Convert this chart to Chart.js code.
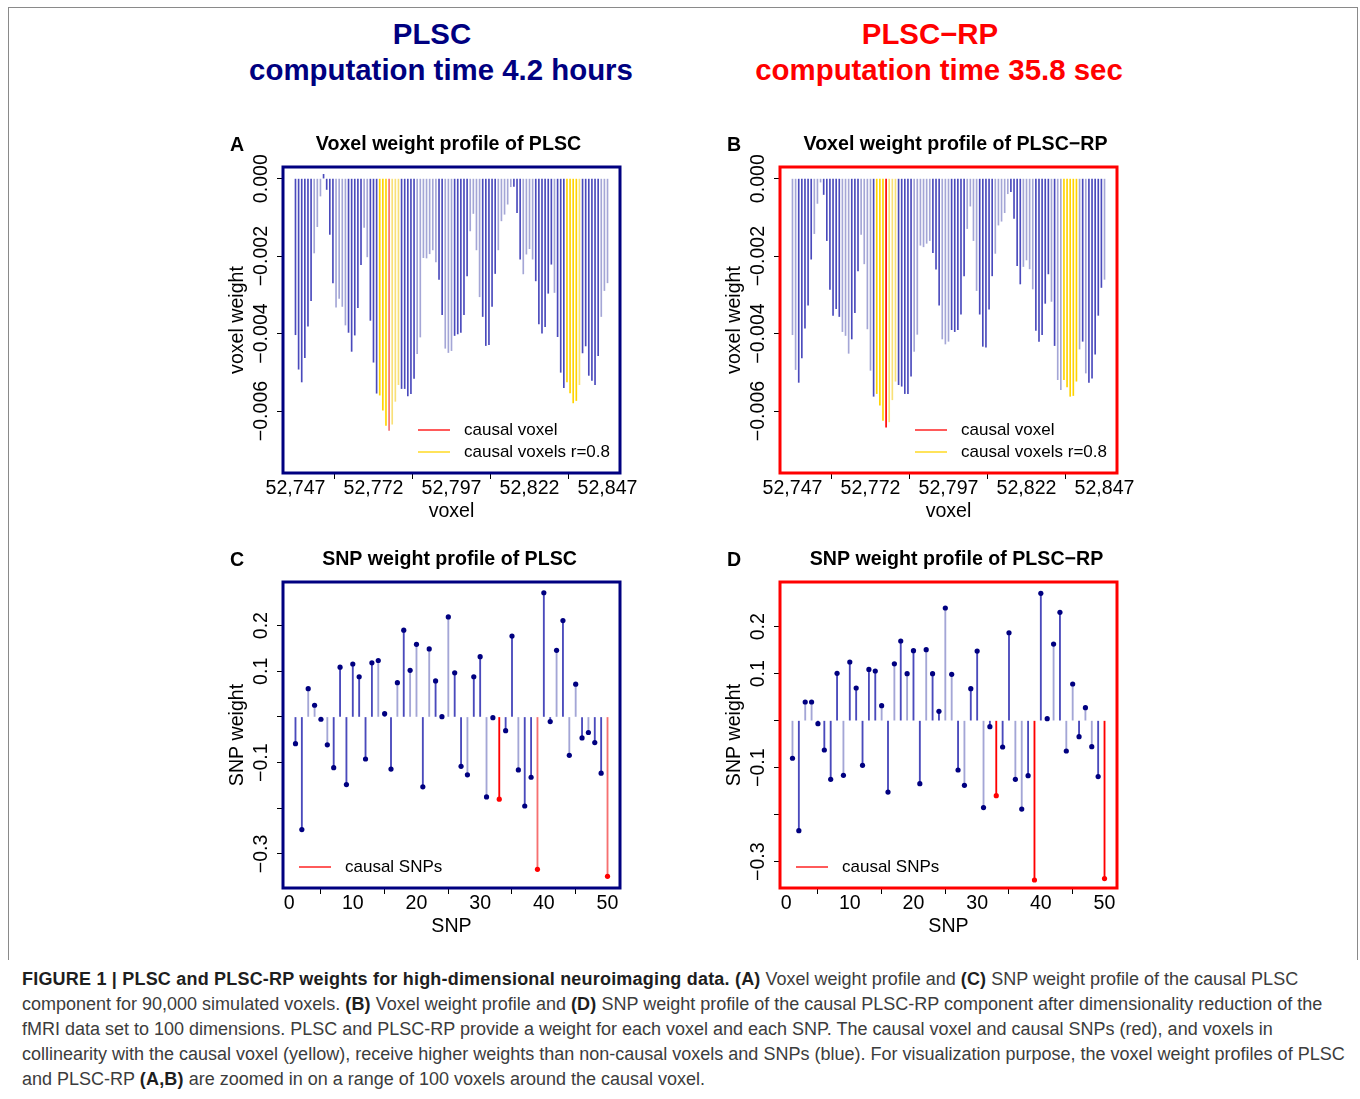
<!DOCTYPE html>
<html>
<head>
<meta charset="utf-8">
<title>PLSC and PLSC-RP weights</title>
<script src="https://cdn.jsdelivr.net/npm/chart.js@4.4.1/dist/chart.umd.min.js"></script>
<style>
  body { margin: 0; background: #fff; font-family: "Liberation Sans", Arial, Helvetica, sans-serif; }
  #page { position: relative; width: 1360px; height: 1099px; overflow: hidden; background: #fff; }
  #border { position: absolute; left: 8px; top: 7px; width: 1348px; height: 952px;
            border: 1px solid #8a8a8a; border-bottom: none; }
  .head { position: absolute; transform: translateX(-50%); white-space: nowrap;
          font-weight: bold; font-size: 29.4px; line-height: 36px; }
  canvas { position: absolute; }
  #caption { position: absolute; left: 22px; top: 967px; white-space: nowrap;
             font-size: 18px; line-height: 25px; color: #3c3c3c; }
  #caption b { color: #1e1e1e; letter-spacing: 0.2px; }
</style>
</head>
<body>
<div id="page">
  <div id="border"></div>
  <div class="head" style="left:432px; top:16px; color:#000080">PLSC</div>
  <div class="head" style="left:441px; top:52px; color:#000080">computation time 4.2 hours</div>
  <div class="head" style="left:930px; top:16px; color:#ff0000">PLSC−RP</div>
  <div class="head" style="left:939px; top:52px; color:#ff0000">computation time 35.8 sec</div>

  <canvas id="chartA" width="500" height="420" style="left:201px; top:110px"></canvas>
  <canvas id="chartB" width="500" height="420" style="left:698px; top:110px"></canvas>
  <canvas id="chartC" width="500" height="420" style="left:201px; top:525px"></canvas>
  <canvas id="chartD" width="500" height="420" style="left:698px; top:525px"></canvas>

  <div id="caption">
    <b>FIGURE 1 | PLSC and PLSC-RP weights for high-dimensional neuroimaging data. (A)</b> Voxel weight profile and <b>(C)</b> SNP weight profile of the causal PLSC<br>
    component for 90,000 simulated voxels. <b>(B)</b> Voxel weight profile and <b>(D)</b> SNP weight profile of the causal PLSC-RP component after dimensionality reduction of the<br>
    fMRI data set to 100 dimensions. PLSC and PLSC-RP provide a weight for each voxel and each SNP. The causal voxel and causal SNPs (red), and voxels in<br>
    collinearity with the causal voxel (yellow), receive higher weights than non-causal voxels and SNPs (blue). For visualization purpose, the voxel weight profiles of PLSC<br>
    and PLSC-RP <b>(A,B)</b> are zoomed in on a range of 100 voxels around the causal voxel.
  </div>
</div>

<script>
// voxel ids shown in panels A and B (100 voxels around the causal one)
const voxelIds = [];
for (let v = 52747; v <= 52847; v++) voxelIds.push(v);
const voxelTicks = [52747, 52772, 52797, 52822, 52847];
const voxelWeightTicks = [0, -0.002, -0.004, -0.006];
const causalVoxel = 52777;
const correlatedVoxels = [52774, 52775, 52776, 52778, 52779, 52780, 52834, 52835, 52836, 52837, 52838];

// voxel weights, PLSC (panel A)
const voxelWeightPLSC = [
  -0.00403, -0.00492, -0.00525, -0.00462, -0.00381, -0.00315, -0.00192, -0.00124, -0.00045, 0.00011,
  -0.00028, -0.00144, -0.00269, -0.00332, -0.00309, -0.00330, -0.00378, -0.00397, -0.00446, -0.00404,
  -0.00333, -0.00222, -0.00126, -0.00202, -0.00366, -0.00474, -0.00554, -0.00559, -0.00598, -0.00637,
  -0.00650, -0.00634, -0.00575, -0.00532, -0.00542, -0.00542, -0.00561, -0.00555, -0.00516, -0.00452,
  -0.00409, -0.00204, -0.00205, -0.00194, -0.00184, -0.00215, -0.00260, -0.00351, -0.00438, -0.00449,
  -0.00444, -0.00405, -0.00401, -0.00397, -0.00351, -0.00251, -0.00135, -0.00090, -0.00184, -0.00305,
  -0.00356, -0.00431, -0.00429, -0.00330, -0.00245, -0.00184, -0.00109, -0.00092, -0.00066, -0.00021,
  -0.00020, -0.00088, -0.00208, -0.00246, -0.00195, -0.00181, -0.00208, -0.00264, -0.00375, -0.00399,
  -0.00382, -0.00296, -0.00221, -0.00294, -0.00408, -0.00500, -0.00540, -0.00525, -0.00553, -0.00579,
  -0.00573, -0.00532, -0.00450, -0.00432, -0.00508, -0.00521, -0.00532, -0.00457, -0.00356, -0.00289,
  -0.00269
];
// voxel weights, PLSC-RP (panel B)
const voxelWeightRP = [
  -0.00403, -0.00493, -0.00526, -0.00463, -0.00386, -0.00327, -0.00208, -0.00142, -0.00064, -0.00009,
  -0.00041, -0.00160, -0.00286, -0.00353, -0.00336, -0.00356, -0.00395, -0.00405, -0.00451, -0.00414,
  -0.00346, -0.00238, -0.00144, -0.00220, -0.00388, -0.00495, -0.00562, -0.00555, -0.00585, -0.00624,
  -0.00642, -0.00628, -0.00571, -0.00523, -0.00532, -0.00536, -0.00555, -0.00555, -0.00510, -0.00446,
  -0.00402, -0.00172, -0.00176, -0.00167, -0.00160, -0.00191, -0.00234, -0.00327, -0.00414, -0.00427,
  -0.00420, -0.00390, -0.00395, -0.00390, -0.00350, -0.00251, -0.00129, -0.00071, -0.00160, -0.00289,
  -0.00350, -0.00433, -0.00435, -0.00337, -0.00251, -0.00193, -0.00120, -0.00110, -0.00088, -0.00039,
  -0.00034, -0.00103, -0.00225, -0.00272, -0.00227, -0.00210, -0.00233, -0.00285, -0.00392, -0.00420,
  -0.00403, -0.00322, -0.00246, -0.00317, -0.00431, -0.00519, -0.00545, -0.00519, -0.00538, -0.00562,
  -0.00560, -0.00523, -0.00440, -0.00420, -0.00502, -0.00526, -0.00515, -0.00453, -0.00353, -0.00281,
  -0.00260
];
// 1 = strong shade, 0 = pale shade of the bar colour
const voxelShadePLSC = [
  1,1,1,1,1,1,0,0,0,1, 1,1,1,0,0,0,0,1,1,1, 1,1,0,0,1,1,1,1,1,1,
  0,0,0,0,1,1,1,1,1,0, 0,0,0,0,0,0,1,1,0,0, 0,1,1,1,1,1,0,0,0,0,
  1,1,1,1,1,0,0,0,0,0, 1,1,1,0,0,0,0,1,1,1, 1,1,1,0,1,1,1,1,1,1,
  1,0,1,1,1,1,1,1,0,0, 0
];
const voxelShadeRP = [
  0,0,1,1,1,1,1,0,0,0, 1,1,1,1,1,1,0,0,0,1, 1,1,0,0,0,0,1,1,1,1,
  1,0,0,0,1,1,1,1,1,0, 0,0,0,0,0,1,1,1,0,0, 0,1,1,1,1,1,0,0,0,0,
  1,1,1,1,1,0,0,0,0,0, 1,1,1,1,0,0,0,0,1,1, 1,1,1,0,1,0,0,1,1,1,
  1,1,0,1,0,1,1,1,1,1, 0
];

// SNPs (panels C and D)
const snpIds = [];
for (let s = 1; s <= 50; s++) snpIds.push(s);
const snpTicks = [0, 10, 20, 30, 40, 50];
const snpWeightTicks = [0.2, 0.1, 0, -0.1, -0.2, -0.3];
const snpWeightLabels = [0.2, 0.1, -0.1, -0.3];
const causalSNPs = [33, 39, 50];

const snpWeightPLSC = [
  -0.0585, -0.2465, 0.062, 0.0256, -0.005, -0.061, -0.111, 0.109, -0.148, 0.116,
  0.088, -0.092, 0.1185, 0.1236, 0.0073, -0.114, 0.075, 0.190, 0.102, 0.159,
  -0.153, 0.149, 0.079, 0.0007, 0.219, 0.0966, -0.108, -0.1266, 0.088, 0.132,
  -0.175, -0.0015, -0.180, -0.030, 0.177, -0.116, -0.195, -0.132, -0.3336, 0.272,
  -0.0102, 0.146, 0.211, -0.084, 0.0717, -0.046, -0.034, -0.056, -0.123, -0.349
];
const snpWeightRP = [
  -0.080, -0.234, 0.0397, 0.0397, -0.0064, -0.0624, -0.1248, 0.1007, -0.1163, 0.1248,
  0.0695, -0.095, 0.109, 0.1057, 0.0319, -0.152, 0.121, 0.1695, 0.100, 0.149,
  -0.134, 0.151, 0.100, 0.0199, 0.2397, 0.0986, -0.105, -0.1376, 0.068, 0.148,
  -0.185, -0.0128, -0.1596, -0.056, 0.187, -0.1248, -0.188, -0.117, -0.339, 0.271,
  0.0043, 0.163, 0.2305, -0.0645, 0.078, -0.034, 0.0277, -0.0553, -0.119, -0.336
];
const snpShadePLSC = [
  1,1,0,0,1,0,1,1,1,1, 1,1,1,0,1,1,0,1,0,0, 1,0,1,1,0,1,1,0,1,1,
  0,1,1,1,1,0,1,1,0,1, 1,0,1,0,0,1,0,1,1,0
];
const snpShadeRP = [
  0,1,0,0,1,1,1,1,0,1, 1,1,1,1,0,1,0,1,0,1, 1,0,1,1,0,0,1,0,1,1,
  0,1,1,1,1,0,0,1,1,1, 1,0,1,0,0,1,0,0,1,1
];

const FAMILY = "'Liberation Sans', Arial, Helvetica, sans-serif";
const FS = 19.6;
Chart.defaults.font.family = FAMILY;
Chart.defaults.color = '#000';

const BLUE = 'rgb(74, 74, 188)', BLUE_PALE = 'rgb(164, 166, 214)';
const YELLOW = 'rgb(255, 212, 0)', YELLOW_PALE = 'rgb(248, 224, 120)';
const RED = 'rgb(255, 0, 0)', RED_PALE = 'rgb(246, 112, 112)';
const NAVY = '#000080';

function minus(s) { return s.replace('-', '\u2212'); }

// draws the parts base R puts around the plot: box, title, letter, rotated y labels, legend
function decorPlugin(p) {
  return {
    id: 'decor',
    afterDraw(chart) {
      const ctx = chart.ctx, a = chart.chartArea, ys = chart.scales.y;
      ctx.save();
      ctx.fillStyle = '#000';
      ctx.textBaseline = 'middle';
      ctx.textAlign = 'center';
      ctx.font = FS + 'px ' + FAMILY;
      p.yLabels.forEach(function(v) {
        ctx.save();
        ctx.translate(a.left - 21, ys.getPixelForValue(v));
        ctx.rotate(-Math.PI / 2);
        ctx.fillText(minus(v.toFixed(p.digits)), 0, 0);
        ctx.restore();
      });

      ctx.font = 'bold ' + FS + 'px ' + FAMILY;
      ctx.fillText(p.title, (a.left + a.right) / 2 + p.titleShift, a.top - 22);
      ctx.textAlign = 'left';
      ctx.fillText(p.letter, a.left - 53, a.top - 21);

      // legend
      ctx.font = '17px ' + FAMILY;
      p.legend.forEach(function(item, i) {
        const y = a.bottom - 21 - 22 * (p.legend.length - 1 - i);
        ctx.strokeStyle = item.color;
        ctx.lineWidth = 1.3;
        ctx.beginPath();
        ctx.moveTo(a.left + p.legendX, y);
        ctx.lineTo(a.left + p.legendX + 32, y);
        ctx.stroke();
        ctx.fillText(item.text, a.left + p.legendX + 46, y);
      });

      ctx.strokeStyle = p.frame;
      ctx.lineWidth = 3;
      ctx.strokeRect(a.left, a.top, a.right - a.left, a.bottom - a.top);
      ctx.restore();
    }
  };
}

function scalesFor(p) {
  return {
    x: {
      type: 'linear', min: p.xMin, max: p.xMax, offset: false,
      afterBuildTicks: function(s) { s.ticks = p.xTicks.map(v => ({ value: v })); },
      afterFit: function(s) { s.height = 50; },
      grid: { drawOnChartArea: false, drawTicks: true, tickLength: 6, color: '#000', lineWidth: 1 },
      border: { display: false },
      ticks: {
        font: { size: FS }, padding: -2, maxRotation: 0, autoSkip: false,
        callback: v => v.toLocaleString('en-US')
      },
      title: { display: true, text: p.xTitle, font: { size: FS }, padding: { top: 0, bottom: 0 } }
    },
    y: {
      min: p.yMin, max: p.yMax,
      afterBuildTicks: function(s) { s.ticks = p.yTicks.map(v => ({ value: v })); },
      afterFit: function(s) { s.width = 60; },
      grid: { drawOnChartArea: false, drawTicks: true, tickLength: 6, color: '#000', lineWidth: 1 },
      border: { display: false },
      ticks: { display: false },
      title: { display: true, text: p.yTitle, font: { size: FS }, padding: { top: 3, bottom: 0 } }
    }
  };
}

const baseOptions = {
  responsive: false,
  animation: false,
  devicePixelRatio: 1,
  layout: { padding: { left: 22, right: 81, top: 57, bottom: 7 } },
  plugins: { legend: { display: false }, tooltip: { enabled: false } }
};

function voxelPanel(id, weights, shade, title, letter, frame, titleShift) {
  const colors = voxelIds.map(function(v, i) {
    if (v === causalVoxel) return shade[i] ? RED : RED_PALE;
    if (correlatedVoxels.includes(v)) return shade[i] ? YELLOW : YELLOW_PALE;
    return shade[i] ? BLUE : BLUE_PALE;
  });
  const p = {
    xMin: 52743, xMax: 52851, xTicks: voxelTicks, xTitle: 'voxel',
    yMin: -0.0076, yMax: 0.0003, yTicks: voxelWeightTicks, yLabels: voxelWeightTicks, digits: 3,
    yTitle: 'voxel weight', title: title, titleShift: titleShift, letter: letter, frame: frame, legendX: 135,
    legend: [{ text: 'causal voxel', color: RED }, { text: 'causal voxels r=0.8', color: YELLOW }]
  };
  return new Chart(document.getElementById(id), {
    type: 'bar',
    data: {
      datasets: [{
        data: voxelIds.map((v, i) => ({ x: v, y: weights[i] })),
        backgroundColor: colors,
        barThickness: 1.0,
        borderWidth: 0
      }]
    },
    options: Object.assign({}, baseOptions, { scales: scalesFor(p) }),
    plugins: [decorPlugin(p)]
  });
}

function snpPanel(id, weights, shade, title, letter, frame, titleShift, yMin, yMax) {
  const stemColors = snpIds.map(function(s, i) {
    if (causalSNPs.includes(s)) return shade[i] ? RED : RED_PALE;
    return shade[i] ? BLUE : BLUE_PALE;
  });
  const dotColors = snpIds.map(s => causalSNPs.includes(s) ? RED : NAVY);
  const pts = snpIds.map((s, i) => ({ x: s, y: weights[i] }));
  const p = {
    xMin: -0.96, xMax: 51.96, xTicks: snpTicks, xTitle: 'SNP',
    yMin: yMin, yMax: yMax, yTicks: snpWeightTicks, yLabels: snpWeightLabels, digits: 1,
    yTitle: 'SNP weight', title: title, titleShift: titleShift, letter: letter, frame: frame, legendX: 16,
    legend: [{ text: 'causal SNPs', color: RED }]
  };
  return new Chart(document.getElementById(id), {
    type: 'bar',
    data: {
      datasets: [{
        type: 'scatter',
        data: pts,
        backgroundColor: dotColors,
        pointRadius: 2.6,
        pointBorderWidth: 0,
        order: 0
      }, {
        data: pts,
        backgroundColor: stemColors,
        barThickness: 1.2,
        borderWidth: 0,
        order: 1
      }]
    },
    options: Object.assign({}, baseOptions, { scales: scalesFor(p) }),
    plugins: [decorPlugin(p)]
  });
}

voxelPanel('chartA', voxelWeightPLSC, voxelShadePLSC, 'Voxel weight profile of PLSC', 'A', NAVY, -3);
voxelPanel('chartB', voxelWeightRP, voxelShadeRP, 'Voxel weight profile of PLSC\u2212RP', 'B', RED, 7);
snpPanel('chartC', snpWeightPLSC, snpShadePLSC, 'SNP weight profile of PLSC', 'C', NAVY, -2, -0.3745, 0.2955);
snpPanel('chartD', snpWeightRP, snpShadeRP, 'SNP weight profile of PLSC\u2212RP', 'D', RED, 8, -0.356, 0.295);
</script>
</body>
</html>
